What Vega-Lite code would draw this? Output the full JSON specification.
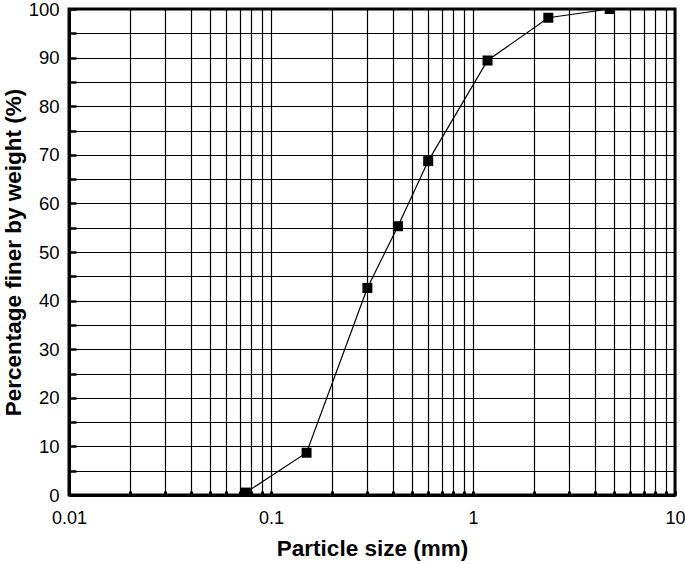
{
  "$schema": "https://vega.github.io/schema/vega-lite/v6.json",
  "width": 606,
  "height": 486,
  "autosize": {"type": "none"},
  "padding": {"left": 69, "top": 9, "right": 10, "bottom": 69},
  "background": "white",
  "config": {
    "view": {"stroke": "black", "strokeWidth": 3},
    "font": "Liberation Sans"
  },
  "data": {
    "values": [
      {"size": 0.075, "pct": 0.5},
      {"size": 0.15, "pct": 8.7},
      {"size": 0.3, "pct": 42.6},
      {"size": 0.425, "pct": 55.3},
      {"size": 0.6, "pct": 68.7},
      {"size": 1.18, "pct": 89.4},
      {"size": 2.36, "pct": 98.2},
      {"size": 4.75, "pct": 100}
    ]
  },
  "encoding": {
    "x": {
      "field": "size",
      "type": "quantitative",
      "scale": {"type": "log", "domain": [0.01, 10], "nice": false},
      "axis": {
        "title": "Particle size (mm)",
        "titleFont": "Liberation Sans",
        "titleFontSize": 22.5,
        "titleFontWeight": "bold",
        "titleColor": "black",
        "titlePadding": 10,
        "values": [0.01,0.02,0.03,0.04,0.05,0.06,0.07,0.08,0.09,0.1,0.2,0.3,0.4,0.5,0.6,0.7,0.8,0.9,1,2,3,4,5,6,7,8,9,10],
        "labelExpr": "indexof([0.01,0.1,1,10], datum.value) >= 0 ? format(datum.value, '~g') : ''",
        "labelOverlap": false,
        "labelFlush": false,
        "labelFontSize": 18,
        "labelColor": "black",
        "labelPadding": 18,
        "grid": true,
        "gridColor": "black",
        "gridWidth": 1.2,
        "gridOpacity": 1,
        "domainColor": "black",
        "domainWidth": 3,
        "tickColor": "black",
        "tickWidth": 3,
        "tickSize": -4
      }
    },
    "y": {
      "field": "pct",
      "type": "quantitative",
      "scale": {"domain": [0, 100], "nice": false},
      "axis": {
        "title": "Percentage finer by weight (%)",
        "titleFont": "Liberation Sans",
        "titleFontSize": 22.5,
        "titleFontWeight": "bold",
        "titleColor": "black",
        "titlePadding": 3,
        "values": [0,5,10,15,20,25,30,35,40,45,50,55,60,65,70,75,80,85,90,95,100],
        "labelExpr": "datum.value % 10 === 0 ? datum.label : ''",
        "labelOverlap": false,
        "labelFlush": false,
        "labelFontSize": 18.5,
        "labelColor": "black",
        "labelPadding": 17,
        "grid": true,
        "gridColor": "black",
        "gridWidth": 1.2,
        "gridOpacity": 1,
        "domainColor": "black",
        "domainWidth": 3,
        "tickColor": "black",
        "tickWidth": 2.5,
        "tickSize": -7
      }
    }
  },
  "layer": [
    {"mark": {"type": "line", "color": "black", "strokeWidth": 1.2}},
    {"mark": {"type": "point", "shape": "square", "filled": true, "color": "black", "opacity": 1, "size": 100, "clip": true}}
  ]
}
